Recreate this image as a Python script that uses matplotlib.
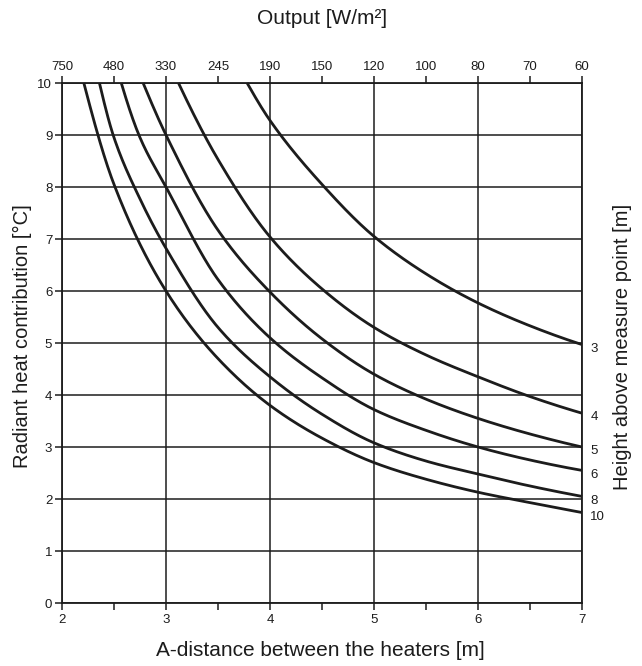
import matplotlib
matplotlib.use("Agg")
import matplotlib.pyplot as plt
import numpy as np

plt.rcParams['font.family'] = ['Liberation Sans', 'DejaVu Sans']

# ---- data ----
heights = ["3", "4", "5", "6", "8", "10"]

h3_x = [3.78, 4.0, 4.5, 5.0, 5.5, 6.0, 6.5, 7.0]
h3_y = [10.0, 9.28, 8.05, 7.05, 6.33, 5.77, 5.33, 4.97]

h4_x = [3.12, 3.5, 4.0, 4.5, 5.0, 5.5, 6.0, 6.5, 7.0]
h4_y = [10.0, 8.53, 7.04, 6.04, 5.30, 4.77, 4.35, 3.97, 3.65]

h5_x = [2.78, 3.0, 3.5, 4.0, 4.5, 5.0, 5.5, 6.0, 6.5, 7.0]
h5_y = [10.0, 9.0, 7.17, 5.98, 5.08, 4.40, 3.92, 3.55, 3.25, 3.00]

h6_x = [2.57, 2.75, 3.0, 3.5, 4.0, 4.5, 5.0, 5.5, 6.0, 6.5, 7.0]
h6_y = [10.0, 8.95, 8.0, 6.22, 5.10, 4.33, 3.72, 3.32, 3.00, 2.75, 2.55]

h8_x = [2.36, 2.5, 2.75, 3.0, 3.5, 4.0, 4.5, 5.0, 5.5, 6.0, 6.5, 7.0]
h8_y = [10.0, 8.95, 7.77, 6.82, 5.30, 4.35, 3.63, 3.08, 2.73, 2.48, 2.25, 2.05]

h10_x = [2.21, 2.5, 3.0, 3.5, 4.0, 4.5, 5.0, 5.5, 6.0, 6.5, 7.0]
h10_y = [10.0, 8.05, 6.0, 4.70, 3.80, 3.17, 2.70, 2.38, 2.13, 1.93, 1.74]

x_ticks = [2, 3, 4, 5, 6, 7]
y_ticks = [0, 1, 2, 3, 4, 5, 6, 7, 8, 9, 10]
top_tick_pos = [2, 2.5, 3, 3.5, 4, 4.5, 5, 5.5, 6, 6.5, 7]
top_tick_labels = ["750", "480", "330", "245", "190", "150", "120", "100", "80", "70", "60"]

series_x = [h3_x, h4_x, h5_x, h6_x, h8_x, h10_x]
series_y = [h3_y, h4_y, h5_y, h6_y, h8_y, h10_y]


def pchip_render(xs, ys, n=400):
    """Monotone cubic (Fritsch-Carlson) rendering between the read points."""
    x = np.asarray(xs, float); y = np.asarray(ys, float)
    h = np.diff(x); d = np.diff(y) / h
    m = np.zeros_like(y)
    for k in range(1, len(x) - 1):
        if d[k - 1] * d[k] > 0:
            w1 = 2 * h[k] + h[k - 1]; w2 = h[k] + 2 * h[k - 1]
            m[k] = (w1 + w2) / (w1 / d[k - 1] + w2 / d[k])
    m[0] = ((2 * h[0] + h[1]) * d[0] - h[0] * d[1]) / (h[0] + h[1]) if len(h) > 1 else d[0]
    if np.sign(m[0]) != np.sign(d[0]):
        m[0] = 0
    m[-1] = ((2 * h[-1] + h[-2]) * d[-1] - h[-1] * d[-2]) / (h[-1] + h[-2]) if len(h) > 1 else d[-1]
    if np.sign(m[-1]) != np.sign(d[-1]):
        m[-1] = 0
    xx = np.linspace(x[0], x[-1], n)
    idx = np.clip(np.searchsorted(x, xx) - 1, 0, len(x) - 2)
    t = (xx - x[idx]) / h[idx]
    h00 = 2 * t**3 - 3 * t**2 + 1; h10 = t**3 - 2 * t**2 + t
    h01 = -2 * t**3 + 3 * t**2; h11 = t**3 - t**2
    yy = h00 * y[idx] + h10 * h[idx] * m[idx] + h01 * y[idx + 1] + h11 * h[idx] * m[idx + 1]
    return xx, yy


ink = "#1c1c1c"
fig = plt.figure(figsize=(6.42, 6.66), dpi=100)
ax = fig.add_axes([62 / 642, 1 - 603 / 666, 520 / 642, 520 / 666])

ax.set_xlim(2, 7)
ax.set_ylim(0, 10)

for xs, ys, lab in zip(series_x, series_y, heights):
    sx, sy = pchip_render(xs, ys)
    ax.plot(sx, sy, color=ink, lw=2.0, solid_capstyle='butt', zorder=3, clip_on=False)
    ax.text(7.08, ys[-1] - 0.08, lab, ha='left', va='center', fontsize=9.5, color=ink,
            clip_on=False)

ax.set_xticks(x_ticks)
ax.set_xticks([2.5, 3.5, 4.5, 5.5, 6.5], minor=True)
ax.set_yticks(y_ticks)
ax.grid(True, which='major', color=ink, lw=1.1)
ax.set_axisbelow(True)
for s in ax.spines.values():
    s.set_color(ink)
    s.set_linewidth(1.3)
ax.tick_params(axis='both', which='both', direction='out', colors=ink, labelsize=9.5,
               length=5, width=1.1)
ax.tick_params(axis='x', pad=3)
ax.tick_params(axis='y', pad=2)

top = ax.twiny()
top.set_xlim(2, 7)
top.set_xticks(top_tick_pos)
top.set_xticklabels(top_tick_labels)
top.tick_params(axis='x', direction='out', colors=ink, labelsize=9.5, length=5, width=1.1, pad=2)
for s in top.spines.values():
    s.set_visible(False)

fig.text(322 / 642, 1 - 18 / 666, "Output [W/m²]", ha='center', va='center',
         fontsize=15, color=ink)
fig.text(320 / 642, 1 - 651 / 666, "A-distance between the heaters [m]", ha='center',
         va='center', fontsize=15, color=ink)
fig.text(22 / 642, 1 - 336 / 666, "Radiant heat contribution [°C]", rotation=90,
         ha='center', va='center', fontsize=14.5, color=ink)
fig.text(622 / 642, 1 - 347 / 666, "Height above measure point [m]", rotation=90,
         ha='center', va='center', fontsize=14.5, color=ink)

fig.savefig("out.png", dpi=100, facecolor='white')
